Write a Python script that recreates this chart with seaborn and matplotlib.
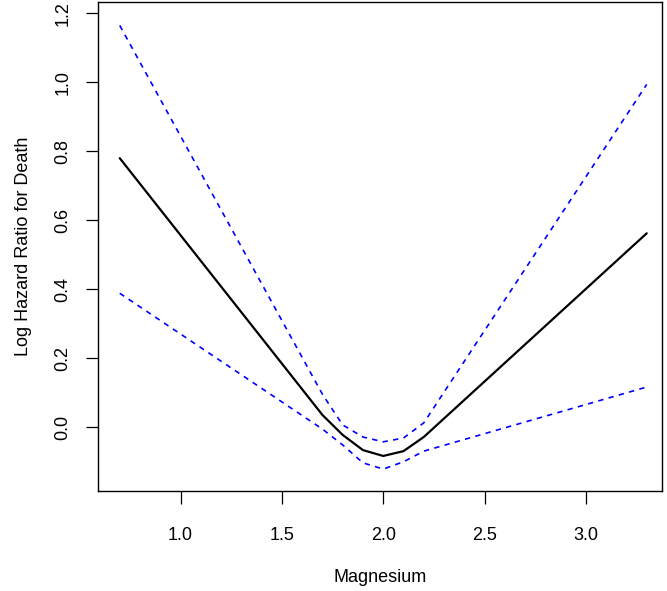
import matplotlib
matplotlib.use("Agg")
import matplotlib.pyplot as plt
import seaborn as sns
import pandas as pd

# magnesium grid points where the spline bends are visible
magnesium = [0.7, 1.7, 1.8, 1.9, 2.0, 2.1, 2.2, 3.3]
log_hr = [0.780, 0.035, -0.023, -0.067, -0.084, -0.070, -0.029, 0.562]
upper_ci = [1.165, 0.095, 0.006, -0.029, -0.043, -0.032, 0.012, 0.994]
lower_ci = [0.388, -0.006, -0.052, -0.104, -0.122, -0.101, -0.070, 0.116]

x_ticks = [1.0, 1.5, 2.0, 2.5, 3.0]
y_ticks = [0.0, 0.2, 0.4, 0.6, 0.8, 1.0, 1.2]

df = pd.DataFrame({
    "magnesium": magnesium,
    "fit": log_hr,
    "upper": upper_ci,
    "lower": lower_ci,
})

sns.set_theme(style="ticks")
plt.rcParams["font.family"] = ["Liberation Sans", "DejaVu Sans"]

fig = plt.figure(figsize=(6.67, 5.91), dpi=100)
ax = fig.add_axes([0.147, 0.169, 0.846, 0.827])

sns.lineplot(data=df, x="magnesium", y="fit", ax=ax, color="black", linewidth=1.6)
sns.lineplot(data=df, x="magnesium", y="upper", ax=ax, color="#0000FF",
             linewidth=1.2, linestyle=(0, (3.2, 3.2)))
sns.lineplot(data=df, x="magnesium", y="lower", ax=ax, color="#0000FF",
             linewidth=1.2, linestyle=(0, (3.2, 3.2)))

ax.set_xlim(0.593, 3.377)
ax.set_ylim(-0.186, 1.232)
ax.set_xticks(x_ticks)
ax.set_xticklabels([f"{v:.1f}" for v in x_ticks])
ax.set_yticks(y_ticks)
ax.set_yticklabels([f"{v:.1f}" for v in y_ticks], rotation=90, va="center")

for s in ax.spines.values():
    s.set_visible(True)
    s.set_color("black")
    s.set_linewidth(1.0)

ax.tick_params(axis="both", direction="out", length=9, width=0.9,
               color="black", labelsize=13, labelcolor="black")
ax.tick_params(axis="x", pad=17)
ax.tick_params(axis="y", pad=10)

ax.set_xlabel("Magnesium", fontsize=13, color="black", labelpad=18)
ax.set_ylabel("Log Hazard Ratio for Death", fontsize=13, color="black", labelpad=16)

plt.savefig("out.png", dpi=100)
plt.close()
